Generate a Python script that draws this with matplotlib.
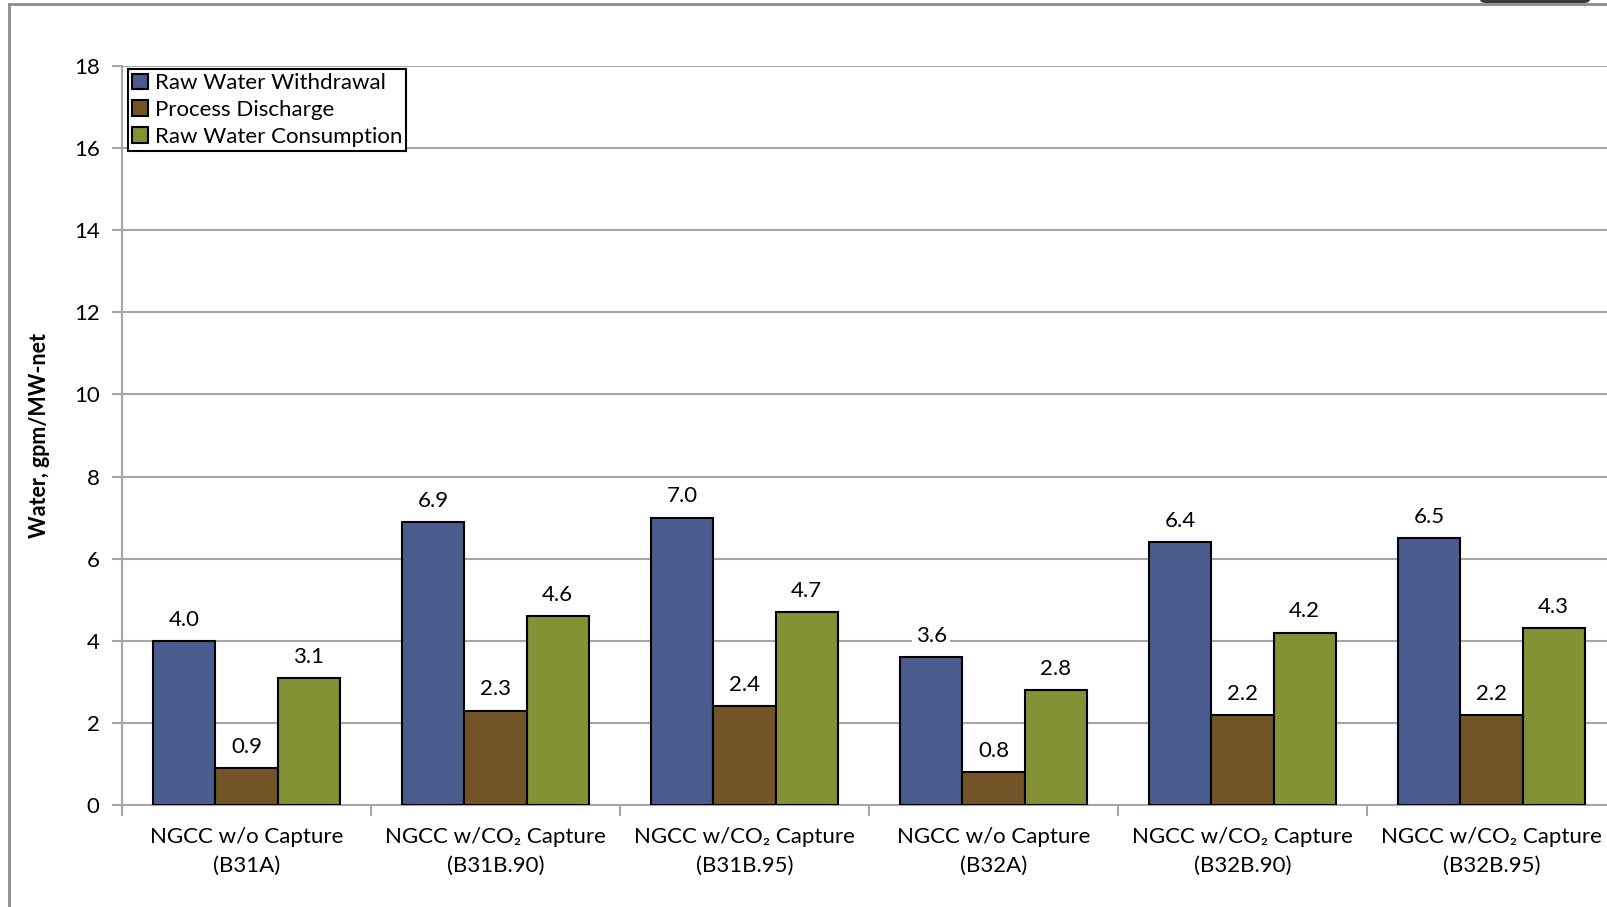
import matplotlib.pyplot as plt
import numpy as np
from matplotlib.patches import FancyBboxPatch
from matplotlib.lines import Line2D

plt.rcParams['font.family'] = ['Lato', 'DejaVu Sans']

# water use per case, gpm/MW-net
cases = ["NGCC w/o Capture\n(B31A)", "NGCC w/CO\u2082 Capture\n(B31B.90)",
         "NGCC w/CO\u2082 Capture\n(B31B.95)", "NGCC w/o Capture\n(B32A)",
         "NGCC w/CO\u2082 Capture\n(B32B.90)", "NGCC w/CO\u2082 Capture\n(B32B.95)"]
withdrawal = [4.0, 6.9, 7.0, 3.6, 6.4, 6.5]
discharge = [0.9, 2.3, 2.4, 0.8, 2.2, 2.2]
consumption = [3.1, 4.6, 4.7, 2.8, 4.2, 4.3]

series = [("Raw Water Withdrawal", withdrawal, "#4a5b8d"),
          ("Process Discharge", discharge, "#725426"),
          ("Raw Water Consumption", consumption, "#849135")]

fig = plt.figure(figsize=(16.07, 9.07), dpi=100)
ax = fig.add_axes([0.0759, 0.1125, 0.9297, 0.8148])

x = np.arange(len(cases))
w = 0.25
grid_c = "#a6a6a6"
for i, (name, vals, col) in enumerate(series):
    bars = ax.bar(x + (i - 1) * w, vals, w, color=col, edgecolor="black",
                  linewidth=1.5, label=name, zorder=3)
    for b, v in zip(bars, vals):
        ax.annotate("%.1f" % v, (b.get_x() + b.get_width() / 2, v),
                    xytext=(0, 8), textcoords="offset points",
                    ha="center", va="bottom", fontsize=16, zorder=4,
                    bbox=dict(boxstyle="square,pad=0.15", fc="white", ec="none"))

ax.set_xlim(-0.5, len(cases) - 0.5)
ax.set_ylim(0, 18)
ax.set_yticks(np.arange(0, 19, 2))
ax.yaxis.grid(True, color=grid_c, linewidth=1.5, zorder=0)
ax.set_axisbelow(True)

ax.set_xticks(np.arange(len(cases) + 1) - 0.5)
ax.set_xticklabels([])
ax.set_xticks(x, minor=True)
ax.set_xticklabels(cases, minor=True, fontsize=16, linespacing=1.55)
ax.tick_params(axis="x", which="minor", length=0, pad=16)
ax.tick_params(axis="x", which="major", length=8, width=1.5, color=grid_c)
ax.tick_params(axis="y", length=7, width=1.5, color=grid_c, labelsize=16, pad=9)

for s in ["top", "right"]:
    ax.spines[s].set_visible(False)
for s in ["left", "bottom"]:
    ax.spines[s].set_color(grid_c)
    ax.spines[s].set_linewidth(1.5)

ax.set_ylabel("Water, gpm/MW-net", fontsize=15.5, fontweight="bold", labelpad=17)

leg = ax.legend(loc="upper left", bbox_to_anchor=(0.004, 0.996), borderaxespad=0,
                fontsize=16, fancybox=False, edgecolor="black", framealpha=1,
                handlelength=0.7, handleheight=0.7, handletextpad=0.3,
                labelspacing=0.3, borderpad=0.2)
leg.get_frame().set_linewidth(1.5)

# outer chart border
fig.add_artist(Line2D([9 / 1607, 9 / 1607], [0, 1 - 4 / 907], transform=fig.transFigure,
                      color="#8c8c8c", linewidth=2))
fig.add_artist(Line2D([9 / 1607, 1], [1 - 4 / 907, 1 - 4 / 907], transform=fig.transFigure,
                      color="#8c8c8c", linewidth=2))
fig.add_artist(FancyBboxPatch((1480 / 1607, 1 - 3 / 907), 110 / 1607, 10 / 907,
                              boxstyle="round,pad=0,rounding_size=0.004",
                              transform=fig.transFigure, fc="#3a3a3a", ec="none"))

fig.savefig("out.png", dpi=100)
